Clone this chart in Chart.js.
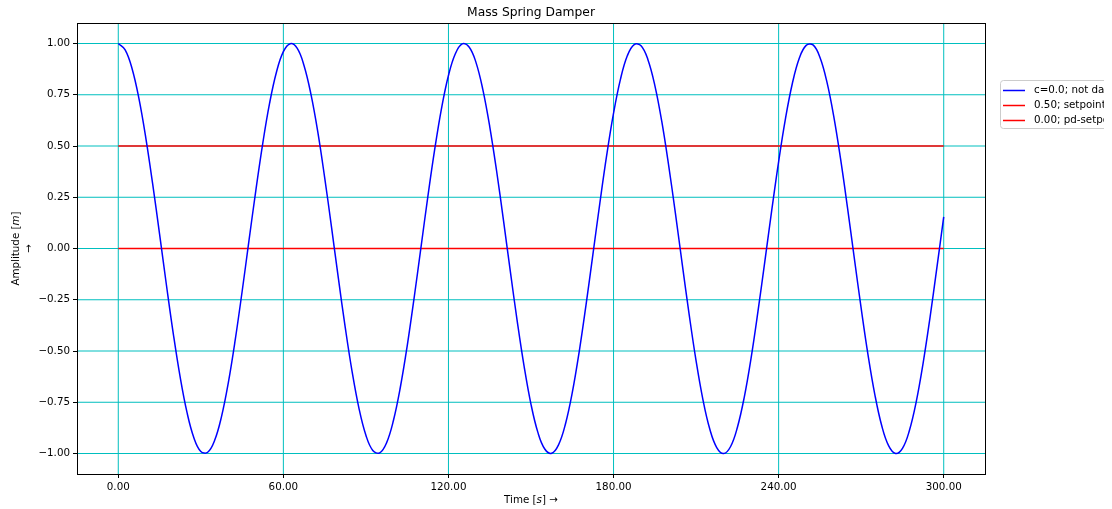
<!DOCTYPE html>
<html>
<head>
<meta charset="utf-8">
<title>Mass Spring Damper</title>
<script src="https://cdn.jsdelivr.net/npm/chart.js@4"></script>
<style>
  html, body { margin: 0; padding: 0; background: #fff; }
  #wrap { width: 1112px; height: 509px; }
</style>
</head>
<body>
<div id="wrap"><canvas id="chart" width="1112" height="509"></canvas></div>
<script>
// sample times (s)
const times = [
  0, 2.5, 5, 7.5, 10, 12.5, 15, 17.5, 20, 22.5, 25, 27.5, 30, 32.5, 35, 37.5, 40, 42.5, 45, 47.5,
  50, 52.5, 55, 57.5, 60, 62.5, 65, 67.5, 70, 72.5, 75, 77.5, 80, 82.5, 85, 87.5, 90, 92.5, 95, 97.5,
  100, 102.5, 105, 107.5, 110, 112.5, 115, 117.5, 120, 122.5, 125, 127.5, 130, 132.5, 135, 137.5, 140, 142.5, 145, 147.5,
  150, 152.5, 155, 157.5, 160, 162.5, 165, 167.5, 170, 172.5, 175, 177.5, 180, 182.5, 185, 187.5, 190, 192.5, 195, 197.5,
  200, 202.5, 205, 207.5, 210, 212.5, 215, 217.5, 220, 222.5, 225, 227.5, 230, 232.5, 235, 237.5, 240, 242.5, 245, 247.5,
  250, 252.5, 255, 257.5, 260, 262.5, 265, 267.5, 270, 272.5, 275, 277.5, 280, 282.5, 285, 287.5, 290, 292.5, 295, 297.5,
  300
];

// amplitude, c=0.0 (not damped)
const amplitude = [
  1.000, 0.969, 0.878, 0.732, 0.540, 0.315, 0.071, -0.178, -0.416, -0.628,
  -0.801, -0.924, -0.990, -0.994, -0.937, -0.821, -0.654, -0.446, -0.211, 0.038,
  0.284, 0.512, 0.709, 0.861, 0.960, 0.999, 0.977, 0.893, 0.754, 0.570,
  0.347, 0.104, -0.146, -0.386, -0.602, -0.781, -0.911, -0.985, -0.997, -0.948,
  -0.839, -0.678, -0.476, -0.243, 0.004, 0.252, 0.483, 0.685, 0.844, 0.950,
  0.998, 0.983, 0.908, 0.775, 0.595, 0.378, 0.137, -0.113, -0.355, -0.575,
  -0.760, -0.897, -0.978, -0.999, -0.958, -0.857, -0.703, -0.505, -0.275, -0.029,
  0.219, 0.454, 0.660, 0.825, 0.940, 0.995, 0.989, 0.921, 0.796, 0.622,
  0.408, 0.170, -0.080, -0.324, -0.548, -0.738, -0.882, -0.971, -1.000, -0.967,
  -0.873, -0.726, -0.533, -0.306, -0.062, 0.187, 0.424, 0.635, 0.806, 0.928,
  0.991, 0.993, 0.933, 0.815, 0.647, 0.438, 0.202, -0.047, -0.292, -0.520,
  -0.715, -0.866, -0.963, -1.000, -0.975, -0.889, -0.748, -0.560, -0.338, -0.095,
  0.154
];

// setpoint lines
const lineTimes = [0, 300];
const setpoint = [0.5, 0.5];
const pdSetpoint = [0.0, 0.0];

const xTicks = [0, 60, 120, 180, 240, 300];
const yTicks = [-1.0, -0.75, -0.5, -0.25, 0.0, 0.25, 0.5, 0.75, 1.0];

const legendLabels = ['c=0.0; not damped', '0.50; setpoint', '0.00; pd-setpoint'];

const FONT = 'DejaVu Sans';
const FS = 10.3;
const fmt = v => (v < 0 ? '\u2212' : '') + Math.abs(v).toFixed(2);

const toXY = (xs, ys) => xs.map((x, i) => ({ x: x, y: ys[i] }));

// cyan grid under the data
const gridLines = {
  id: 'gridLines',
  beforeDatasetsDraw(chart) {
    const ctx = chart.ctx;
    const a = chart.chartArea;
    const sx = chart.scales.x, sy = chart.scales.y;
    ctx.save();
    ctx.strokeStyle = '#00bfbf';
    ctx.lineWidth = 1;
    ctx.beginPath();
    xTicks.forEach(v => {
      const px = sx.getPixelForValue(v);
      ctx.moveTo(px, a.top);
      ctx.lineTo(px, a.bottom);
    });
    yTicks.forEach(v => {
      const py = sy.getPixelForValue(v);
      ctx.moveTo(a.left, py);
      ctx.lineTo(a.right, py);
    });
    ctx.stroke();
    ctx.restore();
  }
};

const frame = {
  id: 'frame',
  afterDraw(chart) {
    const ctx = chart.ctx;
    const a = chart.chartArea;
    ctx.save();
    // spines
    ctx.strokeStyle = '#000';
    ctx.lineWidth = 1;
    ctx.strokeRect(a.left + 0.5, a.top + 0.5, a.right - a.left, a.bottom - a.top);

    ctx.fillStyle = '#000';
    // title
    ctx.font = '12.3px ' + FONT;
    ctx.textAlign = 'center';
    ctx.textBaseline = 'middle';
    ctx.fillText('Mass Spring Damper', (a.left + a.right) / 2, 12.5);

    const nf = FS + 'px ' + FONT;
    const itf = 'italic ' + FS + 'px ' + FONT;

    // x label: Time [s] ->
    const p1 = 'Time [', p2 = 's', p3 = '] \u2192';
    ctx.font = nf;
    let w1 = ctx.measureText(p1).width, w3 = ctx.measureText(p3).width;
    ctx.font = itf; let w2 = ctx.measureText(p2).width;
    let x0 = (a.left + a.right) / 2 - (w1 + w2 + w3) / 2;
    ctx.textAlign = 'left';
    ctx.font = nf; ctx.fillText(p1, x0, 500);
    ctx.font = itf; ctx.fillText(p2, x0 + w1, 500);
    ctx.font = nf; ctx.fillText(p3, x0 + w1 + w2, 500);

    // y label: Amplitude [m] / ->
    ctx.save();
    ctx.translate(16, (a.top + a.bottom) / 2);
    ctx.rotate(-Math.PI / 2);
    const q1 = 'Amplitude [', q2 = 'm', q3 = ']';
    ctx.font = nf;
    w1 = ctx.measureText(q1).width; w3 = ctx.measureText(q3).width;
    ctx.font = itf; w2 = ctx.measureText(q2).width;
    x0 = -(w1 + w2 + w3) / 2;
    ctx.font = nf; ctx.fillText(q1, x0, 0);
    ctx.font = itf; ctx.fillText(q2, x0 + w1, 0);
    ctx.font = nf; ctx.fillText(q3, x0 + w1 + w2, 0);
    ctx.textAlign = 'center';
    ctx.fillText('\u2192', 0, 13);
    ctx.restore();

    // legend, cut off at the figure's right edge
    ctx.save();
    ctx.beginPath();
    ctx.rect(0, 0, 1104, 509);
    ctx.clip();
    const lx = 1000, ly = 80, lw = 200, lh = 48;
    ctx.fillStyle = 'rgba(255,255,255,0.8)';
    ctx.strokeStyle = '#cccccc';
    ctx.lineWidth = 1;
    ctx.beginPath();
    ctx.roundRect(lx + 0.5, ly + 0.5, lw, lh, 3);
    ctx.fill();
    ctx.stroke();
    chart.data.datasets.forEach((ds, i) => {
      const y = ly + 10.5 + i * 15;
      ctx.strokeStyle = ds.borderColor;
      ctx.lineWidth = 1.5;
      ctx.beginPath();
      ctx.moveTo(lx + 3, y);
      ctx.lineTo(lx + 25, y);
      ctx.stroke();
      ctx.fillStyle = '#000';
      ctx.font = nf;
      ctx.textAlign = 'left';
      ctx.textBaseline = 'middle';
      ctx.fillText(legendLabels[i], lx + 34, y);
    });
    ctx.restore();
    ctx.restore();
  }
};

new Chart(document.getElementById('chart'), {
  type: 'line',
  data: {
    datasets: [
      {
        label: legendLabels[0],
        data: toXY(times, amplitude),
        borderColor: '#0000ff',
        borderWidth: 1.5,
        pointRadius: 0,
        tension: 0.4
      },
      {
        label: legendLabels[1],
        data: toXY(lineTimes, setpoint),
        borderColor: '#ff0000',
        borderWidth: 1.5,
        pointRadius: 0
      },
      {
        label: legendLabels[2],
        data: toXY(lineTimes, pdSetpoint),
        borderColor: '#ff0000',
        borderWidth: 1.5,
        pointRadius: 0
      }
    ]
  },
  options: {
    responsive: false,
    animation: false,
    events: [],
    layout: { padding: { left: 0, right: 127, top: 23, bottom: 0 } },
    plugins: {
      legend: { display: false },
      title: { display: false },
      tooltip: { enabled: false }
    },
    scales: {
      x: {
        type: 'linear',
        min: -15,
        max: 315,
        afterBuildTicks: s => { s.ticks = xTicks.map(v => ({ value: v })); },
        afterFit: s => { s.height = 35; },
        ticks: {
          color: '#000',
          font: { family: FONT, size: FS },
          padding: 3,
          maxRotation: 0,
          callback: v => v.toFixed(2)
        },
        grid: { drawOnChartArea: false, tickColor: '#000', tickLength: 4 },
        border: { display: true, color: '#000', width: 1 }
      },
      y: {
        type: 'linear',
        min: -1.1,
        max: 1.1,
        afterBuildTicks: s => { s.ticks = yTicks.map(v => ({ value: v })); },
        afterFit: s => { s.width = 77; },
        ticks: {
          color: '#000',
          font: { family: FONT, size: FS },
          padding: 3,
          callback: v => fmt(v)
        },
        grid: { drawOnChartArea: false, tickColor: '#000', tickLength: 4 },
        border: { display: true, color: '#000', width: 1 }
      }
    }
  },
  plugins: [gridLines, frame]
});
</script>
</body>
</html>
